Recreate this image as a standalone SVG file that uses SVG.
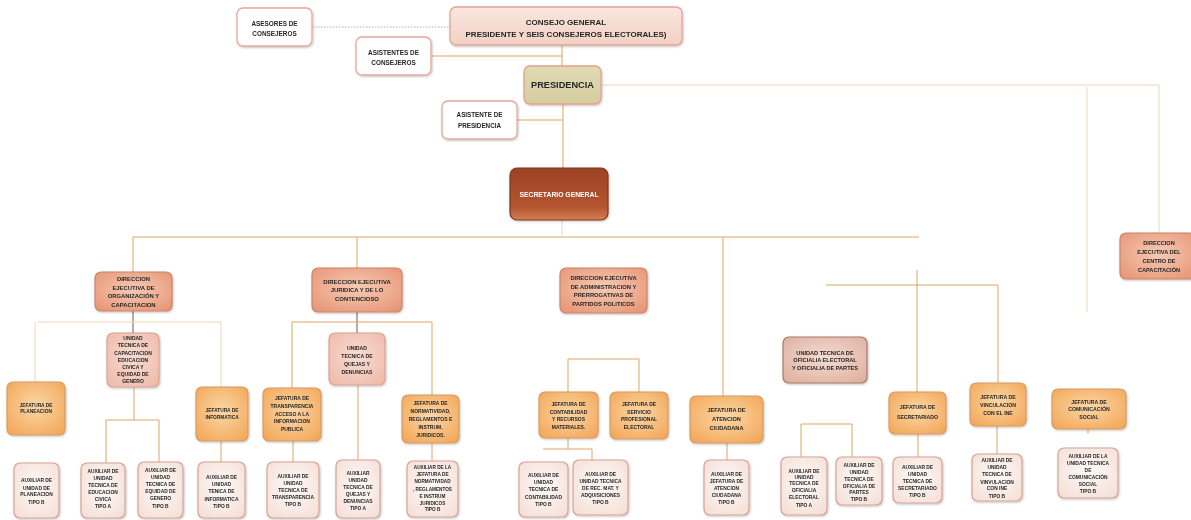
<svg xmlns="http://www.w3.org/2000/svg" width="1191" height="520" viewBox="0 0 1191 520">
<defs>
<style>
.t{font-family:"Liberation Sans",Arial,sans-serif;font-weight:bold;text-anchor:middle;fill:#262626}
.w{fill:#ffffff;stroke:#e6a999;stroke-width:1.3}
.cg{fill:url(#gC);stroke:#e2a595;stroke-width:1.3}
.pr{fill:url(#gP);stroke:#e3a18f;stroke-width:1.3}
.sg{fill:url(#gS);stroke:#7e3820;stroke-width:1.2}
.dr{fill:url(#gD);stroke:#c9856c;stroke-width:1.2}
.ut{fill:url(#gU);stroke:#d9a393;stroke-width:1.2}
.uo{fill:url(#gO);stroke:#a97b6c;stroke-width:1.2}
.jf{fill:url(#gJ);stroke:#d69c63;stroke-width:1.2}
.ax{fill:url(#gA);stroke:#d5a395;stroke-width:1.2}
.c{fill:none;stroke:#dda565;stroke-width:1}
.cp{fill:none;stroke:#f0d6b8;stroke-width:1}
.cd{fill:none;stroke:#6e5a48;stroke-width:1}
.dot{fill:none;stroke:#9a9a9a;stroke-width:0.8;stroke-dasharray:1.5 1.5}
</style>
<radialGradient id="gJ" cx="50%" cy="45%" r="65%"><stop offset="0" stop-color="#fbd7a6"/><stop offset="1" stop-color="#f3a95c"/></radialGradient>
<radialGradient id="gD" cx="50%" cy="45%" r="65%"><stop offset="0" stop-color="#f6cab5"/><stop offset="1" stop-color="#e89878"/></radialGradient>
<radialGradient id="gU" cx="50%" cy="45%" r="65%"><stop offset="0" stop-color="#f8dcd2"/><stop offset="1" stop-color="#efbcac"/></radialGradient>
<radialGradient id="gO" cx="50%" cy="45%" r="65%"><stop offset="0" stop-color="#f5dcd2"/><stop offset="1" stop-color="#dfb2a2"/></radialGradient>
<radialGradient id="gA" cx="50%" cy="45%" r="65%"><stop offset="0" stop-color="#fefaf8"/><stop offset="1" stop-color="#f5e0d8"/></radialGradient>
<linearGradient id="gS" x1="0" y1="0" x2="0" y2="1"><stop offset="0" stop-color="#9c4125"/><stop offset="0.75" stop-color="#b4552f"/><stop offset="1" stop-color="#d47e55"/></linearGradient>
<linearGradient id="gP" x1="0" y1="0" x2="0" y2="1"><stop offset="0" stop-color="#e0dab6"/><stop offset="1" stop-color="#d4cd9f"/></linearGradient>
<linearGradient id="gC" x1="0" y1="0" x2="0" y2="1"><stop offset="0" stop-color="#f9e6de"/><stop offset="1" stop-color="#f3d1c4"/></linearGradient>
<filter id="sh" x="-10%" y="-10%" width="125%" height="130%"><feDropShadow dx="0.8" dy="1" stdDeviation="0.8" flood-color="#000" flood-opacity="0.25"/></filter>
</defs>
<rect x="0" y="0" width="1191" height="520" fill="#ffffff"/>

<g id="connectors">
<path class="dot" d="M312,27 H450"/>
<path class="c" d="M431,56 H562 M562,45 V66"/>
<path class="c" d="M563,104 V168 M517,120 H563"/>
<path class="cp" d="M601,85 H1159 V233"/>
<path class="cp" d="M1087,87 V312"/>
<path class="cp" d="M562,220 V237"/>
<path class="c" d="M133,237 H919"/>
<path class="c" d="M133,237 V272"/>
<path class="cd" d="M133,311 V333"/>
<path class="cp" d="M38,322 H222 M35,322 V382 M221,322 V387"/>
<path class="c" d="M134,387 V420 M106,420 H159 M106,420 V463 M159,420 V462"/>
<path class="c" d="M221,441 V462"/>
<path class="c" d="M357,237 V268"/>
<path class="cd" d="M357,312 V333"/>
<path class="c" d="M292,322 H432 M292,322 V388 M432,322 V395"/>
<path class="c" d="M293,441 V462 M358,385 V460 M432,443 V461"/>
<path class="c" d="M568,359 H639 M568,359 V392 M639,359 V392"/>
<path class="c" d="M568,438 V449 M543,449 H592 M592,449 V460"/>
<path class="c" d="M723,237 V396 M727,443 V460"/>
<path class="c" d="M826,285 H998 M917,270 V392 M998,285 V383"/>
<path class="c" d="M801,424 H852 M801,424 V457 M852,424 V457"/>
<path class="c" d="M918,434 V457 M997,426 V454 M1088,429 V434"/>
</g>

<g id="asesores" filter="url(#sh)"><rect class="w" x="237" y="8" width="75" height="38" rx="6"/>
<text class="t" font-size="6.4"><tspan x="274.5" y="25.6">ASESORES DE</tspan><tspan x="274.5" y="35.6">CONSEJEROS</tspan></text></g>
<g id="consejo" filter="url(#sh)"><rect class="cg" x="450" y="7" width="232" height="38" rx="6"/>
<text class="t" font-size="8"><tspan x="566" y="24.6">CONSEJO GENERAL</tspan><tspan x="566" y="37.2">PRESIDENTE Y SEIS CONSEJEROS ELECTORALES)</tspan></text></g>
<g id="asistentes" filter="url(#sh)"><rect class="w" x="356" y="37" width="75" height="38" rx="6"/>
<text class="t" font-size="6.4"><tspan x="393.5" y="55.3">ASISTENTES DE</tspan><tspan x="393.5" y="64.8">CONSEJEROS</tspan></text></g>
<g id="presidencia" filter="url(#sh)"><rect class="pr" x="524" y="66" width="77" height="38" rx="6"/>
<text class="t" font-size="9.2"><tspan x="562.5" y="88.3">PRESIDENCIA</tspan></text></g>
<g id="asistente-presidencia" filter="url(#sh)"><rect class="w" x="442" y="101" width="75" height="38" rx="6"/>
<text class="t" font-size="6.3"><tspan x="479.5" y="117.3">ASISTENTE DE</tspan><tspan x="479.5" y="128.3">PRESIDENCIA</tspan></text></g>
<g id="secretario" filter="url(#sh)"><rect class="sg" x="510" y="168" width="98" height="52" rx="7"/>
<text class="t" font-size="6.8" style="fill:#ffffff"><tspan x="559" y="196.5">SECRETARIO GENERAL</tspan></text></g>
<g id="dir-centro" filter="url(#sh)"><rect class="dr" x="1120" y="233" width="76" height="46" rx="6"/>
<text class="t" font-size="5.6"><tspan x="1159" y="245">DIRECCION</tspan><tspan x="1159" y="254">EJECUTIVA DEL</tspan><tspan x="1159" y="263">CENTRO DE</tspan><tspan x="1159" y="272">CAPACITACIÓN</tspan></text></g>

<g id="dir-org" filter="url(#sh)"><rect class="dr" x="95" y="272" width="77" height="39" rx="6"/>
<text class="t" font-size="5.9"><tspan x="133.5" y="280.7">DIRECCION</tspan><tspan x="133.5" y="289.6">EJECUTIVA  DE</tspan><tspan x="133.5" y="298.2">ORGANIZACIÓN Y</tspan><tspan x="133.5" y="307.2">CAPACITACION</tspan></text></g>
<g id="dir-jur" filter="url(#sh)"><rect class="dr" x="312" y="268" width="90" height="44" rx="6"/>
<text class="t" font-size="5.9"><tspan x="357" y="283.9">DIRECCION EJECUTIVA</tspan><tspan x="357" y="292.2">JURIDICA Y DE LO</tspan><tspan x="357" y="300.5">CONTENCIOSO</tspan></text></g>
<g id="dir-adm" filter="url(#sh)"><rect class="dr" x="560" y="268" width="87" height="45" rx="6"/>
<text class="t" font-size="5.8"><tspan x="603.5" y="279.5">DIRECCION EJECUTIVA</tspan><tspan x="603.5" y="288.9">DE ADMINISTRACION Y</tspan><tspan x="603.5" y="297.2">PRERROGATIVAS DE</tspan><tspan x="603.5" y="306.2">PARTIDOS POLITICOS</tspan></text></g>

<g id="ut-capacitacion" filter="url(#sh)"><rect class="ut" x="107" y="333" width="52" height="54" rx="6"/>
<text class="t" font-size="5"><tspan x="133" y="340.1">UNIDAD</tspan><tspan x="133" y="347.3">TECNICA DE</tspan><tspan x="133" y="354.5">CAPACITACION</tspan><tspan x="133" y="361.7">EDUCACION</tspan><tspan x="133" y="368.9">CIVICA Y</tspan><tspan x="133" y="376.1">EQUIDAD DE</tspan><tspan x="133" y="383.3">GENERO</tspan></text></g>
<g id="ut-quejas" filter="url(#sh)"><rect class="ut" x="329" y="333" width="56" height="52" rx="6"/>
<text class="t" font-size="5.2"><tspan x="357" y="350.2">UNIDAD</tspan><tspan x="357" y="358">TECNICA DE</tspan><tspan x="357" y="365.8">QUEJAS Y</tspan><tspan x="357" y="373.6">DENUNCIAS</tspan></text></g>
<g id="ut-oficialia" filter="url(#sh)"><rect class="uo" x="783" y="337" width="84" height="46" rx="6"/>
<text class="t" font-size="5.6"><tspan x="825" y="354.7">UNIDAD TECNICA DE</tspan><tspan x="825" y="362">OFICIALIA ELECTORAL</tspan><tspan x="825" y="369.7">Y OFICIALIA DE PARTES</tspan></text></g>

<g id="jef-planeacion" filter="url(#sh)"><rect class="jf" x="7" y="382" width="58" height="53" rx="6"/>
<text class="t" font-size="4.8"><tspan x="36" y="406.7">JEFATURA  DE</tspan><tspan x="36" y="413.4">PLANEACION</tspan></text></g>
<g id="jef-informatica" filter="url(#sh)"><rect class="jf" x="196" y="387" width="52" height="54" rx="6"/>
<text class="t" font-size="4.8"><tspan x="222" y="411.7">JEFATURA  DE</tspan><tspan x="222" y="419">INFORMATICA</tspan></text></g>
<g id="jef-transparencia" filter="url(#sh)"><rect class="jf" x="263" y="388" width="58" height="53" rx="6"/>
<text class="t" font-size="5"><tspan x="292" y="400.4">JEFATURA DE</tspan><tspan x="292" y="408">TRANSPARENCIA</tspan><tspan x="292" y="415.6">ACCESO A LA</tspan><tspan x="292" y="423.2">INFORMACION</tspan><tspan x="292" y="430.8">PUBLICA</tspan></text></g>
<g id="jef-normatividad" filter="url(#sh)"><rect class="jf" x="402" y="395" width="57" height="48" rx="6"/>
<text class="t" font-size="5"><tspan x="430.5" y="405.2">JEFATURA DE</tspan><tspan x="430.5" y="413.1">NORMATIVIDAD,</tspan><tspan x="430.5" y="421">REGLAMENTOS E</tspan><tspan x="430.5" y="428.9">INSTRUM.</tspan><tspan x="430.5" y="436.8">JURIDICOS.</tspan></text></g>
<g id="jef-contabilidad" filter="url(#sh)"><rect class="jf" x="539" y="392" width="59" height="46" rx="6"/>
<text class="t" font-size="5"><tspan x="568.5" y="405.8">JEFATURA DE</tspan><tspan x="568.5" y="413.5">CONTABILIDAD</tspan><tspan x="568.5" y="421.2">Y RECURSOS</tspan><tspan x="568.5" y="429.2">MATERIALES.</tspan></text></g>
<g id="jef-servicio" filter="url(#sh)"><rect class="jf" x="610" y="392" width="58" height="47" rx="6"/>
<text class="t" font-size="5"><tspan x="639" y="405.8">JEFATURA DE</tspan><tspan x="639" y="413.5">SERVICIO</tspan><tspan x="639" y="421.2">PROFESIONAL</tspan><tspan x="639" y="429.2">ELECTORAL</tspan></text></g>
<g id="jef-atencion" filter="url(#sh)"><rect class="jf" x="690" y="396" width="73" height="47" rx="6"/>
<text class="t" font-size="5.6"><tspan x="726.5" y="412">JEFATURA DE</tspan><tspan x="726.5" y="421.3">ATENCION</tspan><tspan x="726.5" y="429.7">CIUDADANA</tspan></text></g>
<g id="jef-secretariado" filter="url(#sh)"><rect class="jf" x="889" y="392" width="57" height="42" rx="6"/>
<text class="t" font-size="5.2"><tspan x="917.5" y="409.2">JEFATURA DE</tspan><tspan x="917.5" y="418.6">SECRETARIADO</tspan></text></g>
<g id="jef-vinculacion" filter="url(#sh)"><rect class="jf" x="970" y="383" width="56" height="43" rx="6"/>
<text class="t" font-size="5.2"><tspan x="998" y="398.6">JEFATURA DE</tspan><tspan x="998" y="406.9">VINCULACION</tspan><tspan x="998" y="414.6">CON EL INE</tspan></text></g>
<g id="jef-comunicacion" filter="url(#sh)"><rect class="jf" x="1052" y="389" width="74" height="40" rx="6"/>
<text class="t" font-size="5.2"><tspan x="1089" y="403.6">JEFATURA DE</tspan><tspan x="1089" y="411.2">COMUNICACIÓN</tspan><tspan x="1089" y="419.2">SOCIAL</tspan></text></g>

<g id="aux-planeacion" filter="url(#sh)"><rect class="ax" x="14" y="463" width="45" height="55" rx="6"/>
<text class="t" font-size="4.9"><tspan x="36.5" y="481.8">AUXILIAR DE</tspan><tspan x="36.5" y="489.5">UNIDAD DE</tspan><tspan x="36.5" y="496.1">PLANEACION</tspan><tspan x="36.5" y="503.5">TIPO B</tspan></text></g>
<g id="aux-educacion" filter="url(#sh)"><rect class="ax" x="81" y="463" width="44" height="55" rx="6"/>
<text class="t" font-size="4.9"><tspan x="103" y="472.5">AUXILIAR DE</tspan><tspan x="103" y="480.1">UNIDAD</tspan><tspan x="103" y="486.8">TECNICA DE</tspan><tspan x="103" y="494.1">EDUCACION</tspan><tspan x="103" y="500.8">CIVICA</tspan><tspan x="103" y="507.8">TIPO A</tspan></text></g>
<g id="aux-equidad" filter="url(#sh)"><rect class="ax" x="138" y="462" width="45" height="56" rx="6"/>
<text class="t" font-size="4.9"><tspan x="160.5" y="471.8">AUXILIAR DE</tspan><tspan x="160.5" y="478.8">UNIDAD</tspan><tspan x="160.5" y="485.8">TECNICA DE</tspan><tspan x="160.5" y="492.8">EQUIDAD DE</tspan><tspan x="160.5" y="500.3">GENERO</tspan><tspan x="160.5" y="507.8">TIPO B</tspan></text></g>
<g id="aux-informatica" filter="url(#sh)"><rect class="ax" x="198" y="462" width="47" height="56" rx="6"/>
<text class="t" font-size="4.9"><tspan x="221.5" y="478.5">AUXILIAR DE</tspan><tspan x="221.5" y="485.8">UNIDAD</tspan><tspan x="221.5" y="492.8">TENICA DE</tspan><tspan x="221.5" y="500.8">INFORMATICA</tspan><tspan x="221.5" y="507.8">TIPO B</tspan></text></g>
<g id="aux-transparencia" filter="url(#sh)"><rect class="ax" x="267" y="462" width="52" height="56" rx="6"/>
<text class="t" font-size="4.9"><tspan x="293" y="477.8">AUXILIAR DE</tspan><tspan x="293" y="485.1">UNIDAD</tspan><tspan x="293" y="491.8">TECNICA DE</tspan><tspan x="293" y="499.1">TRANSPARENCIA</tspan><tspan x="293" y="505.8">TIPO B</tspan></text></g>
<g id="aux-quejas" filter="url(#sh)"><rect class="ax" x="336" y="460" width="44" height="58" rx="6"/>
<text class="t" font-size="4.9"><tspan x="358" y="474.5">AUXILIAR</tspan><tspan x="358" y="481.8">UNIDAD</tspan><tspan x="358" y="489.1">TECNICA DE</tspan><tspan x="358" y="496.1">QUEJAS Y</tspan><tspan x="358" y="502.5">DENUNCIAS</tspan><tspan x="358" y="509.5">TIPO A</tspan></text></g>
<g id="aux-normatividad" filter="url(#sh)"><rect class="ax" x="407" y="461" width="51" height="56" rx="6"/>
<text class="t" font-size="4.7"><tspan x="432.5" y="469.4">AUXILIAR DE LA</tspan><tspan x="432.5" y="476">JEFATURA DE</tspan><tspan x="432.5" y="483.4">NORMATIVIDAD</tspan><tspan x="432.5" y="491">, REGLAMENTOS</tspan><tspan x="432.5" y="498.4">E INSTRUM</tspan><tspan x="432.5" y="505">JURIDICOS</tspan><tspan x="432.5" y="511">TIPO B</tspan></text></g>
<g id="aux-contabilidad" filter="url(#sh)"><rect class="ax" x="519" y="462" width="49" height="55" rx="6"/>
<text class="t" font-size="4.9"><tspan x="543.5" y="476.8">AUXILIAR DE</tspan><tspan x="543.5" y="483.5">UNIDAD</tspan><tspan x="543.5" y="491.1">TECNICA DE</tspan><tspan x="543.5" y="498.5">CONTABILIDAD</tspan><tspan x="543.5" y="505.8">TIPO B</tspan></text></g>
<g id="aux-adquisiciones" filter="url(#sh)"><rect class="ax" x="573" y="460" width="55" height="55" rx="6"/>
<text class="t" font-size="4.9"><tspan x="600.5" y="475.8">AUXILIAR DE</tspan><tspan x="600.5" y="482.8">UNIDAD TECNICA</tspan><tspan x="600.5" y="490.1">DE  REC. MAT. Y</tspan><tspan x="600.5" y="496.8">ADQUISICIONES</tspan><tspan x="600.5" y="503.5">TIPO B</tspan></text></g>
<g id="aux-atencion" filter="url(#sh)"><rect class="ax" x="704" y="460" width="45" height="55" rx="6"/>
<text class="t" font-size="4.9"><tspan x="726.5" y="475.8">AUXILIAR DE</tspan><tspan x="726.5" y="482.5">JEFATURA DE</tspan><tspan x="726.5" y="489.5">ATENCION</tspan><tspan x="726.5" y="496.8">CIUDADANA</tspan><tspan x="726.5" y="503.5">TIPO B</tspan></text></g>
<g id="aux-oficialia-electoral" filter="url(#sh)"><rect class="ax" x="781" y="457" width="46" height="58" rx="6"/>
<text class="t" font-size="4.9"><tspan x="804" y="472.5">AUXILIAR DE</tspan><tspan x="804" y="478.5">UNIDAD</tspan><tspan x="804" y="485.1">TECNICA DE</tspan><tspan x="804" y="491.8">OFICIALIA</tspan><tspan x="804" y="499.1">ELECTORAL</tspan><tspan x="804" y="506.8">TIPO A</tspan></text></g>
<g id="aux-oficialia-partes" filter="url(#sh)"><rect class="ax" x="836" y="457" width="46" height="48" rx="6"/>
<text class="t" font-size="4.9"><tspan x="859" y="466.8">AUXILIAR DE</tspan><tspan x="859" y="473.5">UNIDAD</tspan><tspan x="859" y="480.8">TECNICA DE</tspan><tspan x="859" y="487.5">OFICIALIA DE</tspan><tspan x="859" y="494.1">PARTES</tspan><tspan x="859" y="500.8">TIPO B</tspan></text></g>
<g id="aux-secretariado" filter="url(#sh)"><rect class="ax" x="893" y="457" width="49" height="46" rx="6"/>
<text class="t" font-size="4.9"><tspan x="917.5" y="469.1">AUXILIAR DE</tspan><tspan x="917.5" y="475.8">UNIDAD</tspan><tspan x="917.5" y="482.8">TECNICA DE</tspan><tspan x="917.5" y="489.5">SECRETARIADO</tspan><tspan x="917.5" y="496.8">TIPO B</tspan></text></g>
<g id="aux-vinculacion" filter="url(#sh)"><rect class="ax" x="972" y="454" width="50" height="47" rx="6"/>
<text class="t" font-size="4.9"><tspan x="997" y="461.8">AUXILIAR DE</tspan><tspan x="997" y="469.1">UNIDAD</tspan><tspan x="997" y="476.1">TECNICA DE</tspan><tspan x="997" y="483.5">VINVULACION</tspan><tspan x="997" y="490.1">CON INE</tspan><tspan x="997" y="497.5">TIPO B</tspan></text></g>
<g id="aux-comunicacion" filter="url(#sh)"><rect class="ax" x="1058" y="448" width="60" height="50" rx="6"/>
<text class="t" font-size="4.9"><tspan x="1088" y="457.8">AUXILIAR DE LA</tspan><tspan x="1088" y="465.1">UNIDAD TECNICA</tspan><tspan x="1088" y="471.8">DE</tspan><tspan x="1088" y="479.1">COMUNICACIÓN</tspan><tspan x="1088" y="486.1">SOCIAL</tspan><tspan x="1088" y="492.8">TIPO B</tspan></text></g>
</svg>
